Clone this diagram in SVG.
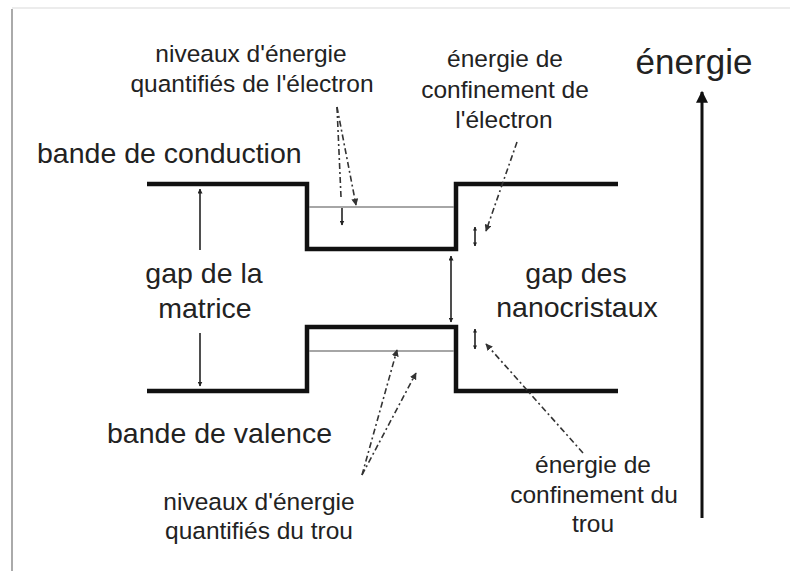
<svg xmlns="http://www.w3.org/2000/svg" width="790" height="571" viewBox="0 0 790 571">
  <defs>
    <style>
      .band { fill: none; stroke: #111; stroke-width: 4.5; stroke-linejoin: miter; }
      .level { fill: none; stroke: #888; stroke-width: 1.6; }
      .arrow { fill: none; stroke: #222; stroke-width: 1.6; }
      .leader { fill: none; stroke: #333; stroke-width: 1.6; stroke-dasharray: 6 3 2 3; }
      .big { font-family: "Liberation Sans", Arial, sans-serif; font-size: 28.5px; fill: #222; }
      .small { font-family: "Liberation Sans", Arial, sans-serif; font-size: 24.5px; fill: #222; text-anchor: middle; }
    </style>
    <marker id="head" viewBox="0 0 10 10" refX="9" refY="5" markerWidth="5" markerHeight="5" markerUnits="userSpaceOnUse" orient="auto-start-reverse">
      <path d="M0,0 L10,5 L0,10 z" fill="#222"/>
    </marker>
    <marker id="headS" viewBox="0 0 10 10" refX="9" refY="5" markerWidth="4" markerHeight="4" markerUnits="userSpaceOnUse" orient="auto-start-reverse">
      <path d="M0,0 L10,5 L0,10 z" fill="#222"/>
    </marker>
    <marker id="headL" viewBox="0 0 10 10" refX="9" refY="5" markerWidth="7" markerHeight="7" markerUnits="userSpaceOnUse" orient="auto">
      <path d="M0,0 L10,5 L0,10 z" fill="#333"/>
    </marker>
    <marker id="headAxis" viewBox="0 0 10 10" refX="9" refY="5" markerWidth="14" markerHeight="12" markerUnits="userSpaceOnUse" orient="auto">
      <path d="M0,0 L10,5 L0,10 z" fill="#111"/>
    </marker>
  </defs>

  <rect x="0" y="0" width="790" height="571" fill="#fff"/>
  <!-- page edge -->
  <line x1="12" y1="8" x2="790" y2="8" stroke="#ececec" stroke-width="2"/>
  <line x1="12" y1="9" x2="12" y2="571" stroke="#aaa" stroke-width="2"/>

  <!-- band profile -->
  <g id="conduction-band">
    <path class="band" d="M147,184 H307 V249 H456 V184 H618"/>
    <line class="level" x1="309" y1="207" x2="454" y2="207"/>
  </g>
  <g id="valence-band">
    <path class="band" d="M147,391 H307 V327 H456 V391 H618"/>
    <line class="level" x1="309" y1="351" x2="454" y2="351"/>
  </g>

  <!-- energy axis -->
  <g id="energy-axis">
    <line x1="702" y1="518" x2="702" y2="92" stroke="#111" stroke-width="3" marker-end="url(#headAxis)"/>
    <text class="big" x="694" y="74" text-anchor="middle" style="font-size:35px">énergie</text>
  </g>

  <!-- labels -->
  <g id="label-conduction"><text class="big" x="37" y="163">bande de conduction</text></g>
  <g id="label-valence"><text class="big" x="107" y="443">bande de valence</text></g>
  <g id="label-gap-matrix">
    <text class="big" x="204" y="283" text-anchor="middle">gap de la</text>
    <text class="big" x="205" y="318" text-anchor="middle">matrice</text>
  </g>
  <g id="label-gap-nano">
    <text class="big" x="576" y="283" text-anchor="middle">gap des</text>
    <text class="big" x="577" y="317" text-anchor="middle">nanocristaux</text>
  </g>
  <g id="label-electron-levels">
    <text class="small" x="251" y="62">niveaux d'énergie</text>
    <text class="small" x="252" y="92">quantifiés de l'électron</text>
  </g>
  <g id="label-electron-confinement">
    <text class="small" x="505" y="67">énergie de</text>
    <text class="small" x="505" y="98">confinement de</text>
    <text class="small" x="504" y="128">l'électron</text>
  </g>
  <g id="label-hole-levels">
    <text class="small" x="259" y="510">niveaux d'énergie</text>
    <text class="small" x="259" y="539">quantifiés du trou</text>
  </g>
  <g id="label-hole-confinement">
    <text class="small" x="593" y="473">énergie de</text>
    <text class="small" x="594" y="503">confinement du</text>
    <text class="small" x="593" y="532">trou</text>
  </g>

  <!-- connectors -->
  <g id="connectors">
    <!-- matrix gap -->
    <line class="arrow" x1="200" y1="250" x2="200" y2="189" marker-end="url(#head)"/>
    <line class="arrow" x1="200" y1="333" x2="200" y2="386" marker-end="url(#head)"/>
    <!-- nanocrystal gap -->
    <line class="arrow" x1="451" y1="256" x2="451" y2="322" marker-start="url(#head)" marker-end="url(#head)"/>
    <!-- first electron level offset -->
    <line class="arrow" x1="342" y1="208" x2="342" y2="225" marker-end="url(#head)"/>
    <!-- confinement energies -->
    <line class="arrow" x1="475" y1="227" x2="475" y2="246" marker-start="url(#headS)" marker-end="url(#headS)"/>
    <line class="arrow" x1="475" y1="329" x2="475" y2="349" marker-start="url(#headS)" marker-end="url(#headS)"/>
    <!-- leaders -->
    <line class="leader" x1="337" y1="107" x2="341" y2="197"/>
    <line class="leader" x1="337" y1="107" x2="356" y2="205" marker-end="url(#headL)"/>
    <line class="leader" x1="517" y1="142" x2="486" y2="231" marker-end="url(#headL)"/>
    <line class="leader" x1="362" y1="475" x2="397" y2="350" marker-end="url(#headL)"/>
    <line class="leader" x1="362" y1="475" x2="416" y2="373" marker-end="url(#headL)"/>
    <line class="leader" x1="583" y1="453" x2="486" y2="344" marker-end="url(#headL)"/>
  </g>
</svg>
